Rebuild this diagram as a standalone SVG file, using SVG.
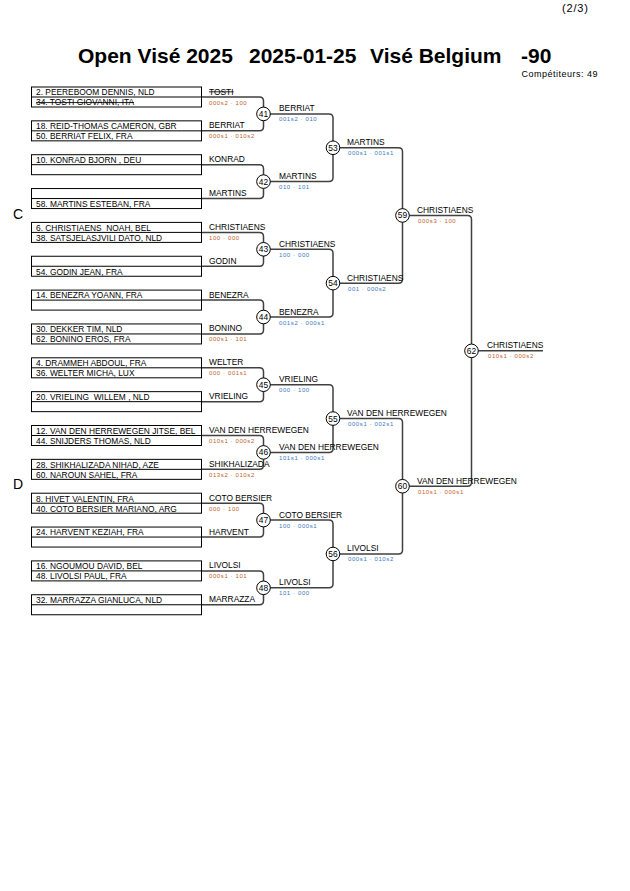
<svg xmlns="http://www.w3.org/2000/svg" width="630" height="891" viewBox="0 0 630 891">
<style>
text{font-family:"Liberation Sans",Arial,sans-serif;fill:#000}
.title{font-size:21px;font-weight:bold}
.nm{font-size:8.4px}
.lb{font-size:8.4px}
.sc{font-size:6px;letter-spacing:0.6px}
.so{fill:#c0602c}
.sb{fill:#3a78c0}
.num{font-size:8.4px;text-anchor:middle}
.box{fill:#fff;stroke:#000;stroke-width:1}
.mid{stroke:#000;stroke-width:1}
.conn{fill:none;stroke:#404040;stroke-width:1.5}
.circ{fill:#fff;stroke:#000;stroke-width:1}
.strike{text-decoration:line-through}
.sec{font-size:14px}
</style>
<rect width="630" height="891" fill="#fff"/>
<text x="562" y="12" style="font-size:11px;letter-spacing:0.8px">(2/3)</text>
<g id="title">
<text class="title" x="78" y="63">Open Visé 2025</text>
<text class="title" x="249" y="63">2025-01-25</text>
<text class="title" x="370" y="63">Visé Belgium</text>
<text class="title" x="521" y="63">-90</text>
<text x="598" y="77" style="font-size:9px;letter-spacing:0.5px;text-anchor:end">Compétiteurs: 49</text>
</g>
<text class="sec" x="13" y="219">C</text>
<text class="sec" x="13" y="489">D</text>
<g id="connectors">
<path class="conn" d="M201.5 97 H259.5 Q263.5 97 263.5 101 V126.85 Q263.5 130.85 259.5 130.85 H201.5"/>
<path class="conn" d="M201.5 164.7 H259.5 Q263.5 164.7 263.5 168.7 V194.55 Q263.5 198.55 259.5 198.55 H201.5"/>
<path class="conn" d="M201.5 232.4 H259.5 Q263.5 232.4 263.5 236.4 V262.25 Q263.5 266.25 259.5 266.25 H201.5"/>
<path class="conn" d="M201.5 300.1 H259.5 Q263.5 300.1 263.5 304.1 V329.95 Q263.5 333.95 259.5 333.95 H201.5"/>
<path class="conn" d="M201.5 367.8 H259.5 Q263.5 367.8 263.5 371.8 V397.65 Q263.5 401.65 259.5 401.65 H201.5"/>
<path class="conn" d="M201.5 435.5 H259.5 Q263.5 435.5 263.5 439.5 V465.35 Q263.5 469.35 259.5 469.35 H201.5"/>
<path class="conn" d="M201.5 503.2 H259.5 Q263.5 503.2 263.5 507.2 V533.05 Q263.5 537.05 259.5 537.05 H201.5"/>
<path class="conn" d="M201.5 570.9 H259.5 Q263.5 570.9 263.5 574.9 V600.75 Q263.5 604.75 259.5 604.75 H201.5"/>
<path class="conn" d="M263.5 113.9 H329 Q333 113.9 333 117.9 V177.6 Q333 181.6 329 181.6 H263.5"/>
<path class="conn" d="M263.5 249.3 H329 Q333 249.3 333 253.3 V313 Q333 317 329 317 H263.5"/>
<path class="conn" d="M263.5 384.7 H329 Q333 384.7 333 388.7 V448.4 Q333 452.4 329 452.4 H263.5"/>
<path class="conn" d="M263.5 520.1 H329 Q333 520.1 333 524.1 V583.8 Q333 587.8 329 587.8 H263.5"/>
<path class="conn" d="M333 147.75 H398.5 Q402.5 147.75 402.5 151.75 V279.15 Q402.5 283.15 398.5 283.15 H333"/>
<path class="conn" d="M333 418.55 H398.5 Q402.5 418.55 402.5 422.55 V549.95 Q402.5 553.95 398.5 553.95 H333"/>
<path class="conn" d="M402.5 215.45 H467.5 Q471.5 215.45 471.5 219.45 V482.25 Q471.5 486.25 467.5 486.25 H402.5"/>
<path class="conn" d="M471.5 350.85 H543"/>
</g>
<g id="pair-1">
<rect class="box" x="31.5" y="87" width="170" height="20"/><line class="mid" x1="31.5" y1="97" x2="201.5" y2="97"/>
<text class="nm" x="36" y="95.3">2. PEEREBOOM DENNIS, NLD</text>
<text class="nm strike" x="36" y="105.3">34. TOSTI GIOVANNI, ITA</text>
<text class="lb strike" x="209" y="94.5">TOSTI</text>
<text class="sc so" x="209" y="104.5">000s2 · 100</text>
</g>
<g id="pair-2">
<rect class="box" x="31.5" y="120.85" width="170" height="20"/><line class="mid" x1="31.5" y1="130.85" x2="201.5" y2="130.85"/>
<text class="nm" x="36" y="129.15">18. REID-THOMAS CAMERON, GBR</text>
<text class="nm" x="36" y="139.15">50. BERRIAT FELIX, FRA</text>
<text class="lb" x="209" y="128.35">BERRIAT</text>
<text class="sc so" x="209" y="138.35">000s1 · 010s2</text>
</g>
<g id="pair-3">
<rect class="box" x="31.5" y="154.7" width="170" height="20"/><line class="mid" x1="31.5" y1="164.7" x2="201.5" y2="164.7"/>
<text class="nm" x="36" y="163">10. KONRAD BJORN , DEU</text>
<text class="lb" x="209" y="162.2">KONRAD</text>
</g>
<g id="pair-4">
<rect class="box" x="31.5" y="188.55" width="170" height="20"/><line class="mid" x1="31.5" y1="198.55" x2="201.5" y2="198.55"/>
<text class="nm" x="36" y="206.85">58. MARTINS ESTEBAN, FRA</text>
<text class="lb" x="209" y="196.05">MARTINS</text>
</g>
<g id="pair-5">
<rect class="box" x="31.5" y="222.4" width="170" height="20"/><line class="mid" x1="31.5" y1="232.4" x2="201.5" y2="232.4"/>
<text class="nm" x="36" y="230.7" xml:space="preserve">6. CHRISTIAENS  NOAH, BEL</text>
<text class="nm" x="36" y="240.7">38. SATSJELASJVILI DATO, NLD</text>
<text class="lb" x="209" y="229.9">CHRISTIAENS</text>
<text class="sc so" x="209" y="239.9">100 · 000</text>
</g>
<g id="pair-6">
<rect class="box" x="31.5" y="256.25" width="170" height="20"/><line class="mid" x1="31.5" y1="266.25" x2="201.5" y2="266.25"/>
<text class="nm" x="36" y="274.55">54. GODIN JEAN, FRA</text>
<text class="lb" x="209" y="263.75">GODIN</text>
</g>
<g id="pair-7">
<rect class="box" x="31.5" y="290.1" width="170" height="20"/><line class="mid" x1="31.5" y1="300.1" x2="201.5" y2="300.1"/>
<text class="nm" x="36" y="298.4">14. BENEZRA YOANN, FRA</text>
<text class="lb" x="209" y="297.6">BENEZRA</text>
</g>
<g id="pair-8">
<rect class="box" x="31.5" y="323.95" width="170" height="20"/><line class="mid" x1="31.5" y1="333.95" x2="201.5" y2="333.95"/>
<text class="nm" x="36" y="332.25">30. DEKKER TIM, NLD</text>
<text class="nm" x="36" y="342.25">62. BONINO EROS, FRA</text>
<text class="lb" x="209" y="331.45">BONINO</text>
<text class="sc so" x="209" y="341.45">000s1 · 101</text>
</g>
<g id="pair-9">
<rect class="box" x="31.5" y="357.8" width="170" height="20"/><line class="mid" x1="31.5" y1="367.8" x2="201.5" y2="367.8"/>
<text class="nm" x="36" y="366.1">4. DRAMMEH ABDOUL, FRA</text>
<text class="nm" x="36" y="376.1">36. WELTER MICHA, LUX</text>
<text class="lb" x="209" y="365.3">WELTER</text>
<text class="sc so" x="209" y="375.3">000 · 001s1</text>
</g>
<g id="pair-10">
<rect class="box" x="31.5" y="391.65" width="170" height="20"/><line class="mid" x1="31.5" y1="401.65" x2="201.5" y2="401.65"/>
<text class="nm" x="36" y="399.95" xml:space="preserve">20. VRIELING  WILLEM , NLD</text>
<text class="lb" x="209" y="399.15">VRIELING</text>
</g>
<g id="pair-11">
<rect class="box" x="31.5" y="425.5" width="170" height="20"/><line class="mid" x1="31.5" y1="435.5" x2="201.5" y2="435.5"/>
<text class="nm" x="36" y="433.8">12. VAN DEN HERREWEGEN JITSE, BEL</text>
<text class="nm" x="36" y="443.8">44. SNIJDERS THOMAS, NLD</text>
<text class="lb" x="209" y="433">VAN DEN HERREWEGEN</text>
<text class="sc so" x="209" y="443">010s1 · 000s2</text>
</g>
<g id="pair-12">
<rect class="box" x="31.5" y="459.35" width="170" height="20"/><line class="mid" x1="31.5" y1="469.35" x2="201.5" y2="469.35"/>
<text class="nm" x="36" y="467.65">28. SHIKHALIZADA NIHAD, AZE</text>
<text class="nm" x="36" y="477.65">60. NAROUN SAHEL, FRA</text>
<text class="lb" x="209" y="466.85">SHIKHALIZADA</text>
<text class="sc so" x="209" y="476.85">013s2 · 010s2</text>
</g>
<g id="pair-13">
<rect class="box" x="31.5" y="493.2" width="170" height="20"/><line class="mid" x1="31.5" y1="503.2" x2="201.5" y2="503.2"/>
<text class="nm" x="36" y="501.5">8. HIVET VALENTIN, FRA</text>
<text class="nm" x="36" y="511.5">40. COTO BERSIER MARIANO, ARG</text>
<text class="lb" x="209" y="500.7">COTO BERSIER</text>
<text class="sc so" x="209" y="510.7">000 · 100</text>
</g>
<g id="pair-14">
<rect class="box" x="31.5" y="527.05" width="170" height="20"/><line class="mid" x1="31.5" y1="537.05" x2="201.5" y2="537.05"/>
<text class="nm" x="36" y="535.35">24. HARVENT KEZIAH, FRA</text>
<text class="lb" x="209" y="534.55">HARVENT</text>
</g>
<g id="pair-15">
<rect class="box" x="31.5" y="560.9" width="170" height="20"/><line class="mid" x1="31.5" y1="570.9" x2="201.5" y2="570.9"/>
<text class="nm" x="36" y="569.2">16. NGOUMOU DAVID, BEL</text>
<text class="nm" x="36" y="579.2">48. LIVOLSI PAUL, FRA</text>
<text class="lb" x="209" y="568.4">LIVOLSI</text>
<text class="sc so" x="209" y="578.4">000s1 · 101</text>
</g>
<g id="pair-16">
<rect class="box" x="31.5" y="594.75" width="170" height="20"/><line class="mid" x1="31.5" y1="604.75" x2="201.5" y2="604.75"/>
<text class="nm" x="36" y="603.05">32. MARRAZZA GIANLUCA, NLD</text>
<text class="lb" x="209" y="602.25">MARRAZZA</text>
</g>
<g id="m41"><circle class="circ" cx="263.5" cy="113.9" r="6.8"/><text class="num" x="263.5" y="116.9">41</text>
<text class="lb" x="279" y="111.4">BERRIAT</text><text class="sc sb" x="279" y="121.4">001s2 · 010</text></g>
<g id="m42"><circle class="circ" cx="263.5" cy="181.6" r="6.8"/><text class="num" x="263.5" y="184.6">42</text>
<text class="lb" x="279" y="179.1">MARTINS</text><text class="sc sb" x="279" y="189.1">010 · 101</text></g>
<g id="m43"><circle class="circ" cx="263.5" cy="249.3" r="6.8"/><text class="num" x="263.5" y="252.3">43</text>
<text class="lb" x="279" y="246.8">CHRISTIAENS</text><text class="sc sb" x="279" y="256.8">100 · 000</text></g>
<g id="m44"><circle class="circ" cx="263.5" cy="317" r="6.8"/><text class="num" x="263.5" y="320">44</text>
<text class="lb" x="279" y="314.5">BENEZRA</text><text class="sc sb" x="279" y="324.5">001s2 · 000s1</text></g>
<g id="m45"><circle class="circ" cx="263.5" cy="384.7" r="6.8"/><text class="num" x="263.5" y="387.7">45</text>
<text class="lb" x="279" y="382.2">VRIELING</text><text class="sc sb" x="279" y="392.2">000 · 100</text></g>
<g id="m46"><circle class="circ" cx="263.5" cy="452.4" r="6.8"/><text class="num" x="263.5" y="455.4">46</text>
<text class="lb" x="279" y="449.9">VAN DEN HERREWEGEN</text><text class="sc sb" x="279" y="459.9">101s1 · 000s1</text></g>
<g id="m47"><circle class="circ" cx="263.5" cy="520.1" r="6.8"/><text class="num" x="263.5" y="523.1">47</text>
<text class="lb" x="279" y="517.6">COTO BERSIER</text><text class="sc sb" x="279" y="527.6">100 · 000s1</text></g>
<g id="m48"><circle class="circ" cx="263.5" cy="587.8" r="6.8"/><text class="num" x="263.5" y="590.8">48</text>
<text class="lb" x="279" y="585.3">LIVOLSI</text><text class="sc sb" x="279" y="595.3">101 · 000</text></g>
<g id="m53"><circle class="circ" cx="333" cy="147.75" r="6.8"/><text class="num" x="333" y="150.75">53</text>
<text class="lb" x="347" y="145.25">MARTINS</text><text class="sc sb" x="348" y="155.25">000s1 · 001s1</text></g>
<g id="m54"><circle class="circ" cx="333" cy="283.15" r="6.8"/><text class="num" x="333" y="286.15">54</text>
<text class="lb" x="347" y="280.65">CHRISTIAENS</text><text class="sc sb" x="348" y="290.65">001 · 000s2</text></g>
<g id="m55"><circle class="circ" cx="333" cy="418.55" r="6.8"/><text class="num" x="333" y="421.55">55</text>
<text class="lb" x="347" y="416.05">VAN DEN HERREWEGEN</text><text class="sc sb" x="348" y="426.05">000s1 · 002s1</text></g>
<g id="m56"><circle class="circ" cx="333" cy="553.95" r="6.8"/><text class="num" x="333" y="556.95">56</text>
<text class="lb" x="347" y="551.45">LIVOLSI</text><text class="sc sb" x="348" y="561.45">000s1 · 010s2</text></g>
<g id="m59"><circle class="circ" cx="402.5" cy="215.45" r="6.8"/><text class="num" x="402.5" y="218.45">59</text>
<text class="lb" x="417" y="212.95">CHRISTIAENS</text><text class="sc so" x="418" y="222.95">000s3 · 100</text></g>
<g id="m60"><circle class="circ" cx="402.5" cy="486.25" r="6.8"/><text class="num" x="402.5" y="489.25">60</text>
<text class="lb" x="417" y="483.75">VAN DEN HERREWEGEN</text><text class="sc so" x="418" y="493.75">010s1 · 000s1</text></g>
<g id="m62"><circle class="circ" cx="471.5" cy="350.85" r="6.8"/><text class="num" x="471.5" y="353.85">62</text>
<text class="lb" x="487" y="348.35">CHRISTIAENS</text><text class="sc so" x="488" y="358.35">010s1 · 000s2</text></g>
</svg>
